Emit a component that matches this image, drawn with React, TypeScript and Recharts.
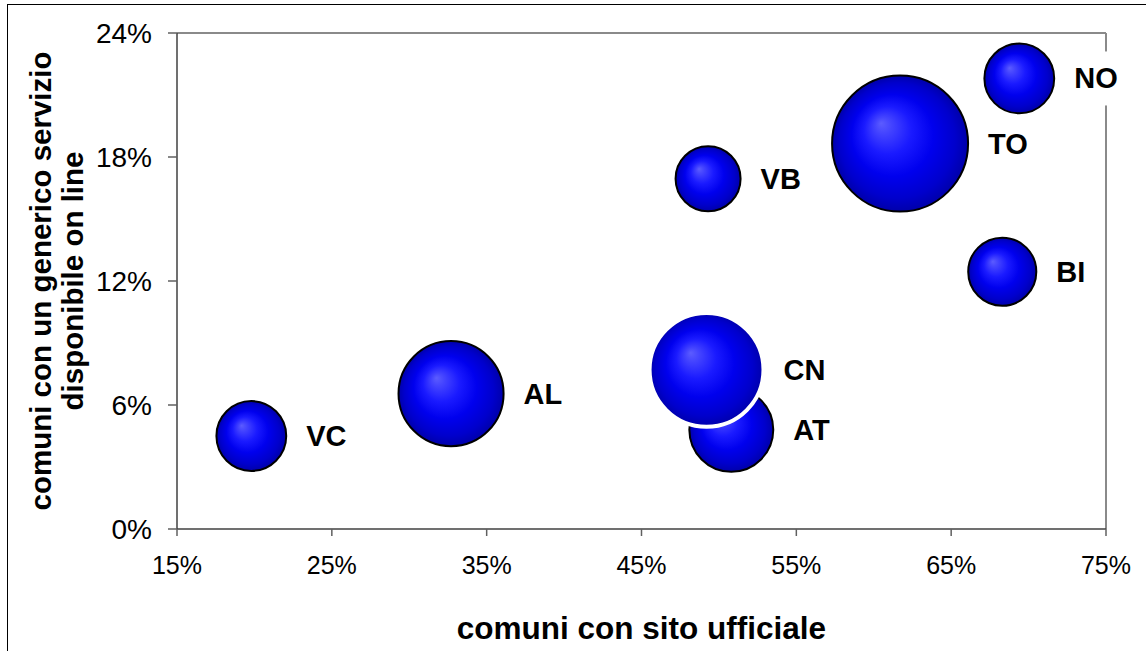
import { ScatterChart, Scatter, XAxis, YAxis, ZAxis, CartesianGrid, Label } from 'recharts';

// province piemontesi
const province = ['VC', 'AL', 'AT', 'CN', 'VB', 'TO', 'BI', 'NO'];
// % comuni con sito ufficiale
const sitoUfficiale = [19.8, 32.7, 50.8, 49.2, 49.3, 61.7, 68.3, 69.4];
// % comuni con un generico servizio disponibile on line
const servizioOnLine = [4.5, 6.55, 4.8, 7.7, 16.95, 18.65, 12.45, 21.8];
// dimensione bolla (numero comuni, stimato dalle aree)
const numeroComuni = [83, 188, 120, 221, 72, 315, 79, 83];

const xTicks = [15, 25, 35, 45, 55, 65, 75];
const yTicks = [0, 6, 12, 18, 24];

const data = province.map((sigla, i) => ({
  sigla,
  x: sitoUfficiale[i],
  y: servizioOnLine[i],
  z: numeroComuni[i],
}));

const FONT = '"Liberation Sans", Arial, sans-serif';

const Bubble = (props: any) => {
  const { cx, cy, width, size, payload } = props;
  const r = width ? width / 2 : Math.sqrt(size / Math.PI);
  const isCN = payload.sigla === 'CN';
  const lx = cx + r + 20;
  const textW = payload.sigla.length * 21;
  return (
    <g>
      <circle
        cx={cx}
        cy={cy}
        r={r}
        fill="url(#bolla)"
        stroke={isCN ? '#ffffff' : '#000000'}
        strokeWidth={isCN ? 4 : 2}
      />
      <rect x={lx - 6} y={cy - 27} width={textW + 12} height={54} fill="#ffffff" />
      <text
        x={lx}
        y={cy}
        dominantBaseline="central"
        fontFamily={FONT}
        fontWeight="bold"
        fontSize={29}
        fill="#000"
      >
        {payload.sigla}
      </text>
    </g>
  );
};

const YTitle = (props: any) => {
  const { viewBox } = props;
  const cy = viewBox.y + viewBox.height / 2;
  return (
    <g fontFamily={FONT} fontWeight="bold" fontSize={29.5} fill="#000" textAnchor="middle">
      <text x={40} y={cy} dominantBaseline="central" transform={`rotate(-90 40 ${cy})`}>
        comuni con un generico servizio
      </text>
      <text x={72} y={cy} dominantBaseline="central" transform={`rotate(-90 72 ${cy})`}>
        disponibile on line
      </text>
    </g>
  );
};

const XTitle = (props: any) => {
  const { viewBox } = props;
  const cx = viewBox.x + viewBox.width / 2;
  return (
    <text
      x={cx}
      y={628}
      dominantBaseline="central"
      textAnchor="middle"
      fontFamily={FONT}
      fontWeight="bold"
      fontSize={31.5}
      fill="#000"
    >
      comuni con sito ufficiale
    </text>
  );
};

export default function App() {
  return (
    <div style={{ position: 'absolute', left: 0, top: 0, width: 1146, height: 651, overflow: 'hidden', background: '#fff' }}>
      <div style={{ position: 'absolute', left: 7, top: 4, width: 1200, height: 700, border: '1px solid #000' }} />
      <div style={{ position: 'absolute', left: 0, top: 0 }}>
        <ScatterChart width={1146} height={651} margin={{ top: 33, right: 40, bottom: 0, left: 0 }}>
          <defs>
            <radialGradient id="bolla" cx="0.5" cy="0.5" r="0.5" fx="0.36" fy="0.35">
              <stop offset="0" stopColor="#5c5cff" />
              <stop offset="0.12" stopColor="#4444ff" />
              <stop offset="0.35" stopColor="#1a1aff" />
              <stop offset="0.6" stopColor="#0000ee" />
              <stop offset="0.85" stopColor="#0000cc" />
              <stop offset="1" stopColor="#0000aa" />
            </radialGradient>
          </defs>
          <CartesianGrid
            stroke="#8a8a8a"
            strokeWidth={2}
            horizontalCoordinatesGenerator={({ offset }: any) => [offset.top]}
            verticalCoordinatesGenerator={({ offset }: any) => [offset.left + offset.width]}
          />
          <XAxis
            type="number"
            dataKey="x"
            domain={[15, 75]}
            ticks={xTicks}
            tickFormatter={(v: number) => `${v}%`}
            height={122}
            tickSize={7}
            tickMargin={20}
            axisLine={{ stroke: '#404040', strokeWidth: 1.5 }}
            tickLine={{ stroke: '#606060', strokeWidth: 1.5 }}
            tick={{ fill: '#000', fontSize: 25, fontFamily: FONT }}
            interval={0}
          >
            <Label content={<XTitle />} />
          </XAxis>
          <YAxis
            type="number"
            dataKey="y"
            domain={[0, 24]}
            ticks={yTicks}
            tickFormatter={(v: number) => `${v}%`}
            width={177}
            tickSize={9}
            tickMargin={16}
            axisLine={{ stroke: '#404040', strokeWidth: 1.5 }}
            tickLine={{ stroke: '#606060', strokeWidth: 1.5 }}
            tick={{ fill: '#000', fontSize: 28, fontFamily: FONT }}
            interval={0}
          >
            <Label content={<YTitle />} />
          </YAxis>
          <ZAxis type="number" dataKey="z" domain={[0, 315]} range={[0, Math.PI * 68 * 68]} />
          <Scatter data={data} shape={<Bubble />} isAnimationActive={false} />
        </ScatterChart>
      </div>
    </div>
  );
}
